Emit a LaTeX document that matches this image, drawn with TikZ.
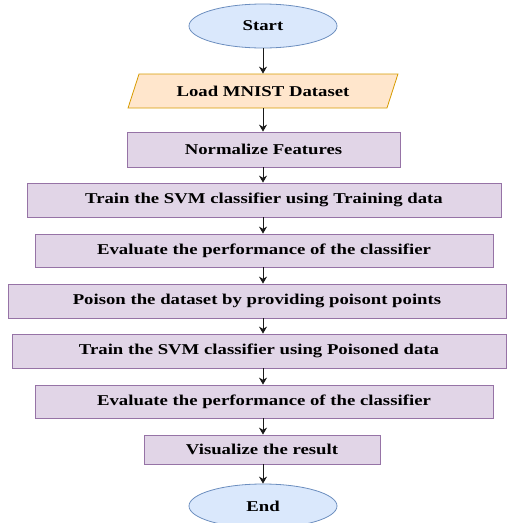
\documentclass[tikz,border=0pt]{standalone}
\usepackage{fontspec}
\setmainfont{Liberation Serif}[FakeStretch=1.25]
\usetikzlibrary{arrows.meta,shapes.geometric}
\definecolor{termfill}{HTML}{DAE8FC}
\definecolor{termline}{HTML}{6C8EBF}
\definecolor{iofill}{HTML}{FFE6CC}
\definecolor{ioline}{HTML}{D79B00}
\definecolor{stepfill}{HTML}{E1D5E7}
\definecolor{stepline}{HTML}{9673A6}
\tikzset{
  flow term/.style={ellipse,draw=termline,fill=termfill,line width=.8pt,inner sep=0pt,minimum width=148pt,minimum height=44pt},
  flow io/.style={trapezium,trapezium left angle=54,trapezium right angle=126,draw=ioline,fill=iofill,line width=.8pt,inner sep=0pt,minimum width=270pt,minimum height=34pt,trapezium stretches=true},
  flow step/.style={rectangle,draw=stepline,fill=stepfill,line width=.8pt,inner sep=0pt,minimum height=34pt},
  flow arrow/.style={black!90,line width=.9pt,-{Stealth[length=7pt,width=8pt]}}
}

\begin{document}
\begin{tikzpicture}[x=1pt,y=-1pt,font=\fontsize{15}{18}\selectfont\bfseries]
  \useasboundingbox (0,0) rectangle (507,523);
  \node[flow term] (start) at (263,26) {Start};
  \node[flow io] (load) at (263,91) {Load MNIST Dataset};
  \node[flow step,minimum width=273pt,minimum height=35pt] (norm) at (263.5,149.5) {Normalize Features};
  \node[flow step,minimum width=474pt] (train) at (264,200) {Train the SVM classifier using Training data};
  \node[flow step,minimum width=458pt,minimum height=33pt] (eval) at (264,250.5) {Evaluate the performance of the classifier};
  \node[flow step,minimum width=498pt] (poison) at (257,301) {Poison the dataset by providing poisont points};
  \node[flow step,minimum width=494pt] (trainp) at (259,351) {Train the SVM classifier using Poisoned data};
  \node[flow step,minimum width=458pt,minimum height=33pt] (evalp) at (264,401.5) {Evaluate the performance of the classifier};
  \node[flow step,minimum width=236pt,minimum height=29pt] (vis) at (262,449.5) {Visualize the result};
  \node[flow term] (end) at (263,506) {End};
  % arrows between the steps, all on the axis of the start node
  \foreach \a/\b in {start/load,load/norm,norm/train,train/eval,eval/poison,poison/trainp,trainp/evalp,evalp/vis,vis/end}
    \draw[flow arrow] (start.south |- \a.south) -- (start.south |- \b.north);
\end{tikzpicture}
\end{document}
